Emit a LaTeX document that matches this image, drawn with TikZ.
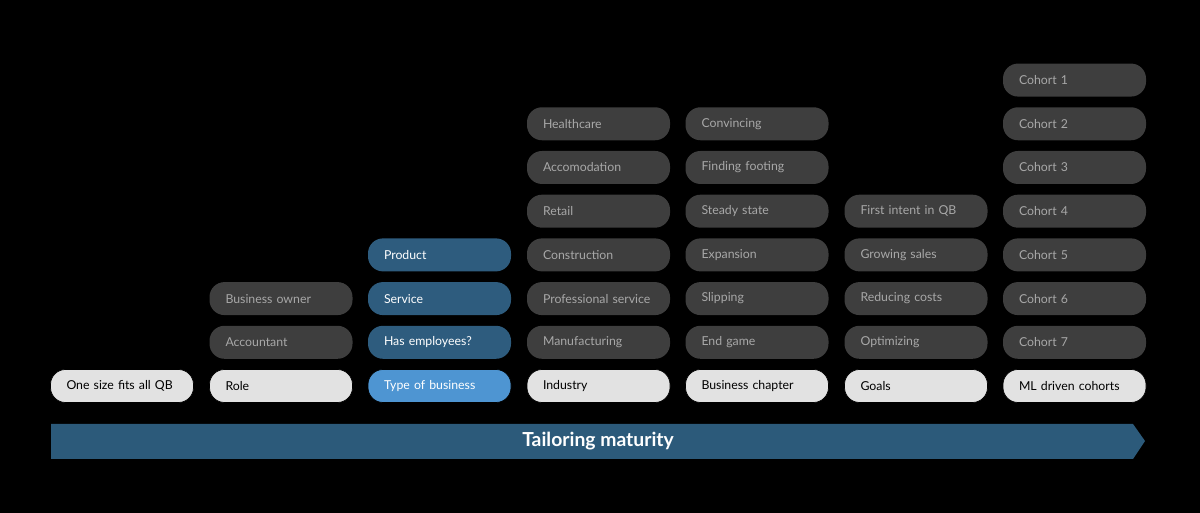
\documentclass[tikz,border=0pt]{standalone}
\usepackage{fontspec}
\setmainfont{Lato}
\usetikzlibrary{positioning}
\begin{document}
\begin{tikzpicture}[font=\fontsize{7pt}{8pt}\selectfont]

\definecolor{pillgray}{HTML}{3E3E3E}
\definecolor{pilltext}{HTML}{A8A8A8}
\definecolor{pilllight}{HTML}{E2E2E2}
\definecolor{pillblue}{HTML}{2E5C7E}
\definecolor{pillsky}{HTML}{4E95D2}
\definecolor{barblue}{HTML}{2C5A7A}

\tikzstyle{pill} = [rounded corners=.3cm, minimum height=.66cm, text width=2.22cm, inner xsep=.32cm, inner ysep=0pt, align=left]
\tikzstyle{basebox} = [pill, fill=pilllight, draw=black, text=black]
\tikzstyle{optbox} = [pill, fill=pillgray, text=pilltext]
\tikzstyle{bluebox} = [pill, fill=pillblue, text=white]

\fill[black] (0,0) rectangle (24,10.26);
\useasboundingbox (0,0) rectangle (24,10.26);

% bottom row
\node[basebox] (b1) at (2.44,2.54) {One size fits all QB};
\node[basebox] (b2) at (5.62,2.54) {Role};
\node[basebox, fill=pillsky, text=white] (b3) at (8.79,2.54) {Type of business};
\node[basebox] (b4) at (11.97,2.54) {Industry};
\node[basebox] (b5) at (15.14,2.54) {Business chapter};
\node[basebox] (b6) at (18.32,2.54) {Goals};
\node[basebox] (b7) at (21.49,2.54) {ML driven cohorts};

% role
\node[optbox, above=.2cm of b2] (r1) {Accountant};
\node[optbox, above=.2cm of r1] (r2) {Business owner};

% type of business
\node[bluebox, above=.2cm of b3] (t1) {Has employees?};
\node[bluebox, above=.2cm of t1] (t2) {Service};
\node[bluebox, above=.2cm of t2] (t3) {Product};

% industry
\node[optbox, above=.2cm of b4] (i1) {Manufacturing};
\node[optbox, above=.2cm of i1] (i2) {Professional service};
\node[optbox, above=.2cm of i2] (i3) {Construction};
\node[optbox, above=.2cm of i3] (i4) {Retail};
\node[optbox, above=.2cm of i4] (i5) {Accomodation};
\node[optbox, above=.2cm of i5] (i6) {Healthcare};

% business chapter
\node[optbox, above=.2cm of b5] (c1) {End game};
\node[optbox, above=.2cm of c1] (c2) {Slipping};
\node[optbox, above=.2cm of c2] (c3) {Expansion};
\node[optbox, above=.2cm of c3] (c4) {Steady state};
\node[optbox, above=.2cm of c4] (c5) {Finding footing};
\node[optbox, above=.2cm of c5] (c6) {Convincing};

% goals
\node[optbox, above=.2cm of b6] (g1) {Optimizing};
\node[optbox, above=.2cm of g1] (g2) {Reducing costs};
\node[optbox, above=.2cm of g2] (g3) {Growing sales};
\node[optbox, above=.2cm of g3] (g4) {First intent in QB};

% cohorts
\node[optbox, above=.2cm of b7] (m1) {Cohort 7};
\foreach \i [remember=\i as \j (initially 1)] in {2,...,7}{
  \pgfmathtruncatemacro{\k}{8-\i}
  \node[optbox, above=.2cm of m\j] (m\i) {Cohort \k};
}

% maturity bar
\fill[barblue] (1.02,1.08) -- (22.66,1.08) -- (22.9,1.44) -- (22.66,1.78) -- (1.02,1.78) -- cycle;
\node[text=white, font=\fontsize{11pt}{13pt}\selectfont\bfseries] (bar) at (11.96,1.43) {Tailoring maturity};

\end{tikzpicture}
\end{document}
